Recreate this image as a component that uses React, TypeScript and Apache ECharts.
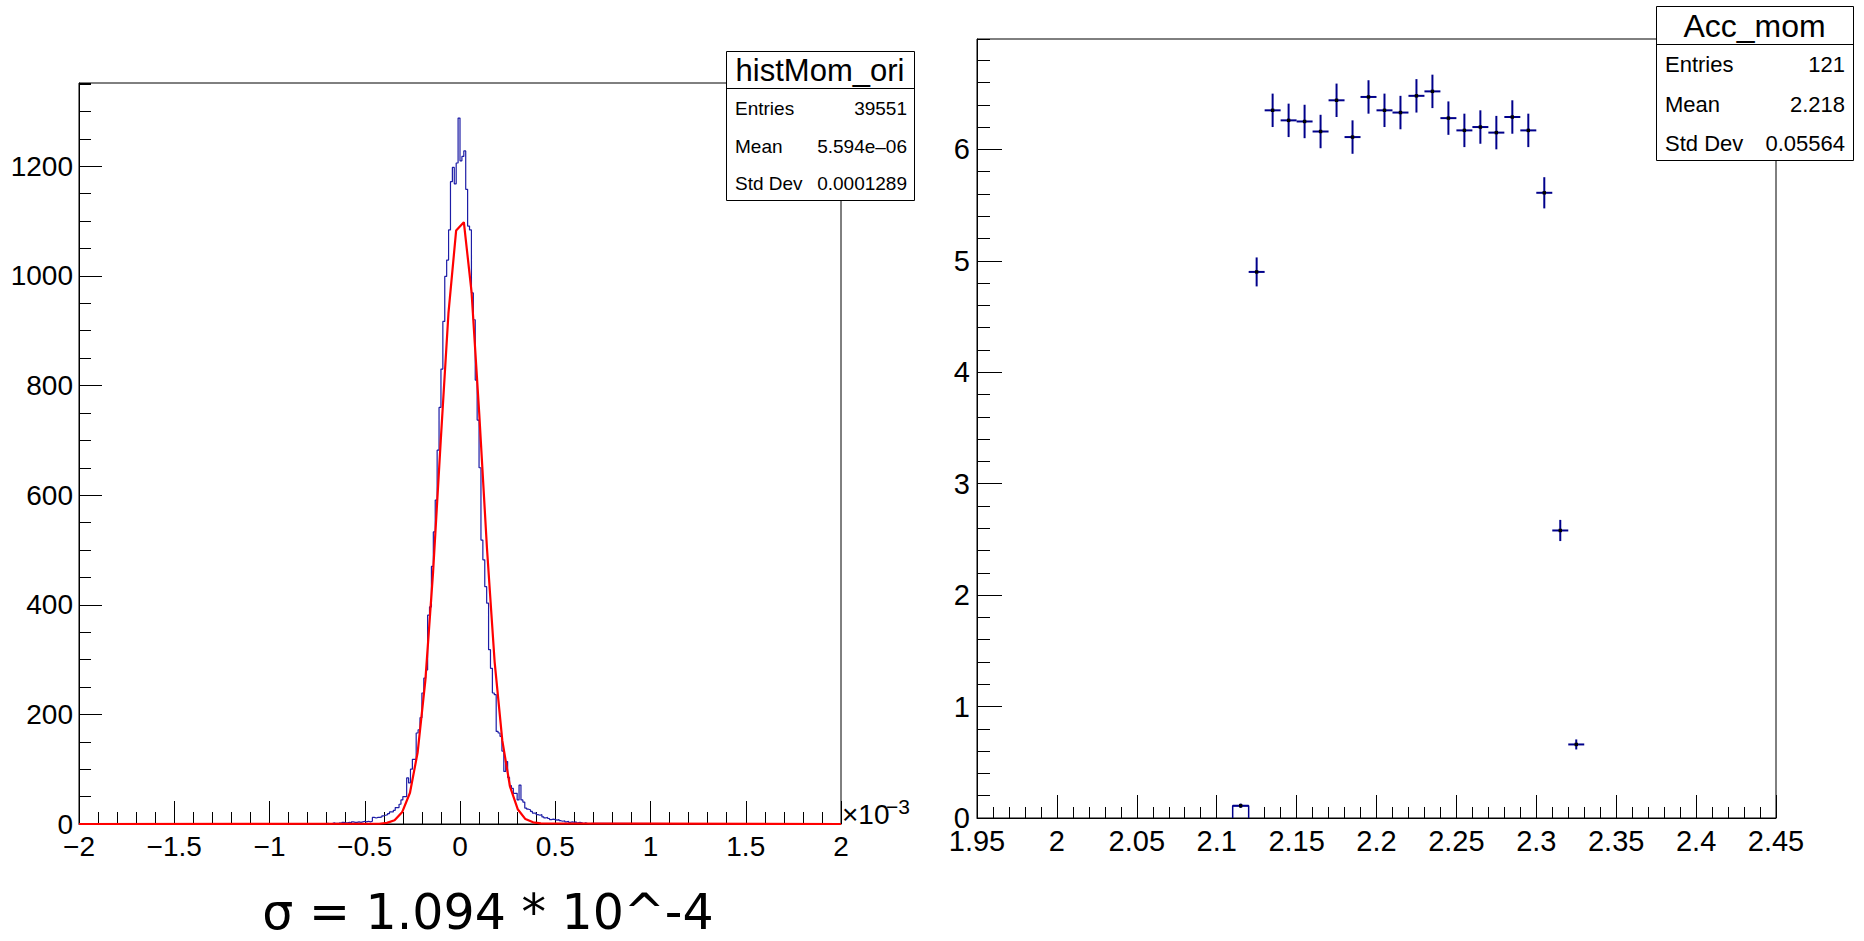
import React, { useEffect, useRef } from "react";
import * as echarts from "echarts";

// ---------- Left pad: histMom_ori (x in units of 1e-3) ----------
const histStart = -0.71;
const histBinWidth = 0.01;
const histCounts = [
  1, 1, 0, 1, 2, 1, 1, 2, 1, 3,
  2, 2, 3, 2, 4, 3, 3, 4, 3, 4,
  5, 4, 5, 4, 5, 12, 11, 12, 12, 13,
  15, 16, 17, 19, 22, 22, 25, 30, 30, 36,
  44, 50, 50, 84, 75, 100, 118, 118, 166, 172,
  194, 239, 266, 281, 381, 396, 470, 533, 591, 682,
  760, 830, 917, 999, 1029, 1084, 1172, 1198, 1168, 1206,
  1288,
  1210, 1218, 1228, 1158, 1091, 1084, 969, 920, 810, 737,
  650, 518, 482, 433, 403, 318, 284, 239, 236, 169,
  166, 160, 133, 96, 114, 85, 70, 65, 56, 56,
  44, 71, 44, 40, 29, 27, 26, 23, 20, 20,
  17, 16, 17, 13, 11, 12, 10, 8, 9, 8,
  7, 8, 6, 5, 6, 4, 5, 3, 4, 3,
  4, 2, 3, 2, 1, 2, 1, 0, 1,
];
const fitX = [
  -2, -0.4242, -0.3838, -0.3434, -0.303, -0.2626, -0.2222, -0.1818, -0.1414, -0.101, -0.0606, -0.0202,
  0.0202, 0.0606, 0.101, 0.1414, 0.1818, 0.2222, 0.2626, 0.303, 0.3434, 0.3838, 0.4242, 2,
];
const fitY = [
  0, 0.5, 2, 7, 22, 57, 131, 262, 459, 700, 932, 1083,
  1098, 971, 749, 504, 296, 152, 68, 27, 9, 3, 1, 0,
];
const leftXRange = [-2, 2];
const leftYMax = 1352;
const leftStatsTitle = "histMom_ori";
const leftStatsLabels = ["Entries", "Mean", "Std Dev"];
const leftStatsValues = ["39551", "5.594e\u201306", "0.0001289"];
const sigmaText = "\u03c3 = 1.094 * 10^-4";

// ---------- Right pad: Acc_mom ----------
const accBinWidth = 0.01;
const accX = [
  2.115, 2.125, 2.135, 2.145, 2.155, 2.165, 2.175, 2.185, 2.195, 2.205, 2.215,
  2.225, 2.235, 2.245, 2.255, 2.265, 2.275, 2.285, 2.295, 2.305, 2.315, 2.325,
];
const accY = [
  0.11, 4.9, 6.35, 6.26, 6.25, 6.16, 6.44, 6.11, 6.47, 6.35, 6.33,
  6.48, 6.52, 6.28, 6.17, 6.2, 6.15, 6.29, 6.17, 5.61, 2.58, 0.66,
];
const accErr = [
  0.02, 0.13, 0.15, 0.15, 0.15, 0.15, 0.15, 0.15, 0.15, 0.15, 0.15,
  0.15, 0.15, 0.15, 0.15, 0.15, 0.15, 0.15, 0.15, 0.14, 0.095, 0.045,
];
const accBoxX = [2.11, 2.11, 2.12, 2.12];
const accBoxY = [0, 0.11, 0.11, 0];
const rightXRange = [1.95, 2.45];
const rightYMax = 6.99;
const rightStatsTitle = "Acc_mom";
const rightStatsLabels = ["Entries", "Mean", "Std Dev"];
const rightStatsValues = ["121", "2.218", "0.05564"];

const FONT = "'Liberation Sans', Arial, Helvetica, sans-serif";
const BLACK = "#000";

function statsBox(
  x: number, y: number, w: number, h: number, titleH: number,
  title: string, titleSize: number, labels: string[], values: string[],
  rowYs: number[], fontSize: number, padL: number, padR: number
) {
  const els: any[] = [
    { type: "rect", z: 100, shape: { x: x + 0.5, y: y + 0.5, width: w, height: h },
      style: { fill: "#fff", stroke: BLACK, lineWidth: 1 } },
    { type: "line", z: 101, shape: { x1: x + 0.5, y1: y + titleH + 0.5, x2: x + w + 0.5, y2: y + titleH + 0.5 },
      style: { stroke: BLACK, lineWidth: 1 } },
    { type: "text", z: 101, x: x + w / 2, y: y + titleH / 2 + 1,
      style: { text: title, fontSize: titleSize, fontFamily: FONT, fill: BLACK,
        textAlign: "center", textVerticalAlign: "middle" } },
  ];
  labels.forEach((lab, i) => {
    els.push({ type: "text", z: 101, x: x + padL, y: rowYs[i],
      style: { text: lab, fontSize, fontFamily: FONT, fill: BLACK, textAlign: "left", textVerticalAlign: "middle" } });
    els.push({ type: "text", z: 101, x: x + w - padR, y: rowYs[i],
      style: { text: values[i], fontSize, fontFamily: FONT, fill: BLACK, textAlign: "right", textVerticalAlign: "middle" } });
  });
  return els;
}

export default function App() {
  const ref = useRef<HTMLDivElement>(null);

  useEffect(() => {
    if (!ref.current) return;
    const chart = echarts.init(ref.current, undefined, { renderer: "svg" });

    const histPts: number[][] = [[leftXRange[0], 0], [histStart, 0]];
    histCounts.forEach((c, i) => {
      const x0 = histStart + i * histBinWidth;
      histPts.push([x0, c], [x0 + histBinWidth, c]);
    });
    histPts.push([histStart + histCounts.length * histBinWidth, 0], [leftXRange[1], 0]);

    const fitPts = fitX.map((x, i) => [x, fitY[i]]);
    const accData = accX.map((x, i) => [x, accY[i], accErr[i]]);
    const boxPts = accBoxX.map((x, i) => [x, accBoxY[i]]);

    const labelStyle = { fontSize: 28, fontFamily: FONT, color: BLACK };
    const axisLine = { show: true, onZero: false, lineStyle: { color: BLACK, width: 1 } };
    const plain = (v: number) => String(v);

    const option: any = {
      animation: false,
      backgroundColor: "#fff",
      grid: [
        { left: 79, top: 83, width: 762, height: 741, show: true, borderColor: BLACK, borderWidth: 1, backgroundColor: "transparent" },
        { left: 977, top: 39, width: 799, height: 779, show: true, borderColor: BLACK, borderWidth: 1, backgroundColor: "transparent" },
      ],
      xAxis: [
        {
          gridIndex: 0, type: "value", position: "bottom", min: leftXRange[0], max: leftXRange[1], interval: 0.5,
          axisLine, splitLine: { show: false },
          axisTick: { show: true, inside: true, length: 23, lineStyle: { color: BLACK } },
          minorTick: { show: true, splitNumber: 5, length: 12, lineStyle: { color: BLACK } },
          minorSplitLine: { show: false },
          axisLabel: { ...labelStyle, margin: 8,
            formatter: (v: number) => (v < 0 ? "\u2212" + Math.abs(v) : String(v)) },
        },
        {
          gridIndex: 1, type: "value", position: "bottom", min: rightXRange[0], max: rightXRange[1], interval: 0.05,
          axisLine, splitLine: { show: false },
          axisTick: { show: true, inside: true, length: 23, lineStyle: { color: BLACK } },
          minorTick: { show: true, splitNumber: 5, length: 11, lineStyle: { color: BLACK } },
          minorSplitLine: { show: false },
          axisLabel: { ...labelStyle, fontSize: 29, margin: 8, formatter: plain },
        },
      ],
      yAxis: [
        {
          gridIndex: 0, type: "value", position: "left", offset: 0, min: 0, max: leftYMax, interval: 200,
          axisLine, splitLine: { show: false },
          axisTick: { show: true, inside: true, length: 23, lineStyle: { color: BLACK } },
          axisLabel: { ...labelStyle, margin: 6, showMaxLabel: false, formatter: plain },
        },
        {
          gridIndex: 0, type: "value", position: "left", offset: 0, min: 0, max: leftYMax, interval: 50,
          axisLine: { show: false, onZero: false }, splitLine: { show: false },
          axisTick: { show: true, inside: true, length: 12, lineStyle: { color: BLACK } },
          axisLabel: { show: false },
        },
        {
          gridIndex: 1, type: "value", position: "left", offset: 0, min: 0, max: rightYMax, interval: 1,
          axisLine, splitLine: { show: false },
          axisTick: { show: true, inside: true, length: 25, lineStyle: { color: BLACK } },
          axisLabel: { ...labelStyle, fontSize: 29, margin: 7, showMaxLabel: false, formatter: plain },
        },
        {
          gridIndex: 1, type: "value", position: "left", offset: 0, min: 0, max: rightYMax, interval: 0.2,
          axisLine: { show: false, onZero: false }, splitLine: { show: false },
          axisTick: { show: true, inside: true, length: 13, lineStyle: { color: BLACK } },
          axisLabel: { show: false },
        },
      ],
      series: [
        {
          name: "histMom_ori", type: "line", xAxisIndex: 0, yAxisIndex: 0, data: histPts,
          showSymbol: false, symbol: "none", lineStyle: { color: "#1d1da6", width: 1.2 }, z: 3,
        },
        {
          name: "fit", type: "line", xAxisIndex: 0, yAxisIndex: 0, data: fitPts,
          showSymbol: false, symbol: "none", lineStyle: { color: "#ff0000", width: 2.2 }, z: 4,
        },
        {
          name: "accBox", type: "line", xAxisIndex: 1, yAxisIndex: 2, data: boxPts,
          showSymbol: false, symbol: "none", lineStyle: { color: "#00008b", width: 1.5 }, z: 3,
        },
        {
          name: "Acc_mom", type: "custom", xAxisIndex: 1, yAxisIndex: 2, data: accData,
          encode: { x: 0, y: 1 }, z: 5,
          renderItem: (params: any, api: any) => {
            const x = api.value(0), y = api.value(1), e = api.value(2);
            const half = accBinWidth / 2;
            const pl = api.coord([x - half, y]);
            const pr = api.coord([x + half, y]);
            const pt = api.coord([x, y + e]);
            const pb = api.coord([x, y - e]);
            const c = api.coord([x, y]);
            const stroke = { stroke: "#00008b", lineWidth: 2 };
            return {
              type: "group",
              children: [
                { type: "line", shape: { x1: pl[0], y1: pl[1], x2: pr[0], y2: pr[1] }, style: stroke },
                { type: "line", shape: { x1: pt[0], y1: pt[1], x2: pb[0], y2: pb[1] }, style: stroke },
                { type: "rect", shape: { x: c[0] - 1.7, y: c[1] - 1.7, width: 3.4, height: 3.4 }, style: { fill: "#000" } },
              ],
            };
          },
        },
      ],
      graphic: [
        ...statsBox(726, 51, 188, 149, 37, leftStatsTitle, 31, leftStatsLabels, leftStatsValues,
          [108, 146, 183], 19, 9, 7),
        ...statsBox(1656, 6, 197, 154, 38, rightStatsTitle, 32, rightStatsLabels, rightStatsValues,
          [64, 104, 143], 22, 9, 8),
        { type: "text", x: 842, y: 814, z: 50,
          style: { text: "\u00d710", fontSize: 28, fontFamily: FONT, fill: BLACK, textAlign: "left", textVerticalAlign: "middle" } },
        { type: "text", x: 886, y: 806, z: 50,
          style: { text: "\u22123", fontSize: 21, fontFamily: FONT, fill: BLACK, textAlign: "left", textVerticalAlign: "middle" } },
        { type: "text", x: 488, y: 912, z: 50,
          style: { text: sigmaText, fontSize: 49, fontFamily: "'DejaVu Sans', sans-serif", fill: BLACK,
            textAlign: "center", textVerticalAlign: "middle" } },
      ],
    };

    chart.setOption(option);
    return () => chart.dispose();
  }, []);

  return (
    <div
      ref={ref}
      style={{ position: "fixed", left: 0, top: 0, width: 1864, height: 941, background: "#fff" }}
    />
  );
}
